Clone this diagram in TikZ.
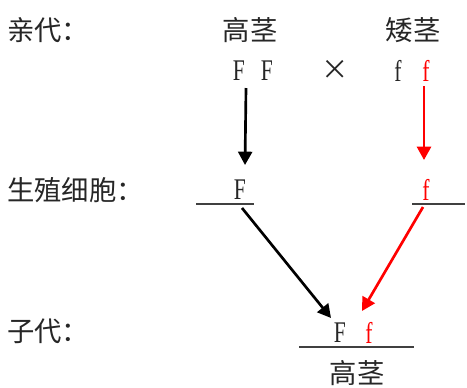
\documentclass[tikz,border=0pt]{standalone}
\usepackage{fontspec}
\setmainfont{Liberation Serif}
\newfontfamily\cjk{Noto Sans CJK SC}
\newfontfamily\lat{Liberation Serif}
\usetikzlibrary{arrows.meta}
\definecolor{linegray}{HTML}{404040}
\newcommand{\narrow}[1]{\scalebox{0.72}[1]{#1}}
\begin{document}
\begin{tikzpicture}[x=0.75pt,y=-0.75pt,
  zh/.style={font=\cjk\fontsize{20.5}{21}\selectfont, inner sep=0pt, text=black!85},
  zhl/.style={zh, anchor=west},
  letter/.style={font=\lat\fontsize{22.5}{23}\selectfont, inner sep=0pt, text=black!85},
  redletter/.style={letter, text=red},
  bar/.style={draw=linegray, line width=1.1pt},
  arr/.style={line width=2pt, -{Triangle[width=10.5pt,length=10pt]}},
  blackarr/.style={arr, draw=black, fill=black},
  redarr/.style={arr, draw=red, fill=red}]
\useasboundingbox (0,0) rectangle (467,387);
% row labels
\node[zhl] (lp) at (7,30) {亲代：};
\node[zhl] (lg) at (7,190) {生殖细胞：};
\node[zhl] (lc) at (7,331) {子代：};
% parents
\node[zh] (tall) at (250,30) {高茎};
\node[zh] (short) at (413,30) {矮茎};
\node[letter] (F1) at (239,71) {\narrow{F}};
\node[letter] (F2) at (267,71) {\narrow{F}};
\node[zh] (cross) at (335,70) {×};
\node[letter] (f1) at (398,71) {\narrow{f}};
\node[redletter] (f2) at (426,71) {\narrow{f}};
% gametes
\node[letter] (gF) at (240,190) {\narrow{F}};
\node[redletter] (gf) at (426,190) {\narrow{f}};
\coordinate (gFl) at (196,204);
\coordinate (gFr) at (254,204);
\coordinate (gfl) at (412,204);
\coordinate (gfr) at (465,204);
\draw[bar] (gFl) -- (gFr);
\draw[bar] (gfl) -- (gfr);
% offspring
\node[letter] (cF) at (340,333) {\narrow{F}};
\node[redletter] (cf) at (369,333) {\narrow{f}};
\coordinate (cl) at (299,347);
\coordinate (cr) at (414,347);
\draw[bar] (cl) -- (cr);
\node[zh] (ctall) at (357,373) {高茎};
% arrows
\coordinate (a1s) at (246,88);
\coordinate (a1e) at (245,165);
\coordinate (a2s) at (424,86);
\coordinate (a2e) at (424,160);
\coordinate (a3s) at (242,208);
\coordinate (a3e) at (331,318);
\coordinate (a4s) at (423,207);
\coordinate (a4e) at (362,311);
\draw[blackarr] (a1s) -- (a1e);
\draw[redarr] (a2s) -- (a2e);
\draw[blackarr] (a3s) -- (a3e);
\draw[redarr] (a4s) -- (a4e);
\end{tikzpicture}
\end{document}
